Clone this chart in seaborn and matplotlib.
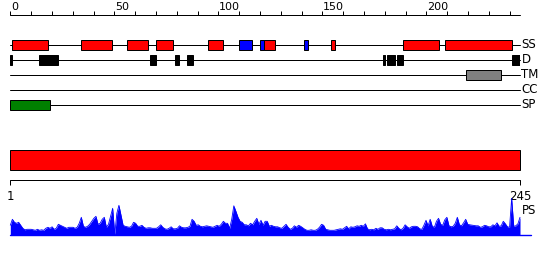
import numpy as np
import pandas as pd
import matplotlib
matplotlib.use("Agg")
import matplotlib.pyplot as plt
import seaborn as sns

# ---------------- data ----------------
protein_length = 245
track_names = ["SS", "D", "TM", "CC", "SP"]

ss_helix = [(1, 18), (34, 49), (56, 66), (70, 78), (95, 102), (122, 127),
            (154, 156), (189, 206), (209, 241)]
ss_strand = [(110, 116), (120, 122), (141, 143)]
disorder = [(0, 1), (14, 23), (67, 70), (79, 81), (85, 88), (179, 180),
            (181, 185), (186, 189), (241, 245)]
transmembrane = [(219, 236)]
coiled_coil = []
signal_peptide = [(0, 19)]

ruler_ticks = list(range(0, 241, 10))
ruler_labels = [0, 50, 100, 150, 200]

domain_segments = [(1, 245)]
domain_labels = ["1", "245"]

ps_values = [
    10, 16, 13, 12, 13, 10, 7, 5.5, 6, 6,
    6, 5.5, 5, 6, 5, 5.5, 5, 7, 8, 7,
    8.5, 6, 7, 11, 10, 9, 8, 7, 8, 8,
    8, 7, 8, 12, 18, 9, 8, 9, 11, 14,
    17, 19, 11, 12, 16, 18, 8, 11, 19, 27,
    1, 22, 30, 20, 10, 9, 8.5, 8, 9, 13,
    12, 9, 9, 10, 8, 7, 7.5, 7.5, 7, 7,
    7, 8.5, 10.5, 8, 6.5, 6, 7, 8.5, 6.5, 6.5,
    7, 9.5, 8, 7.5, 7.5, 8, 9, 16, 14, 10,
    10.5, 9, 8.5, 9, 9.5, 9, 8.5, 8, 9, 10,
    9, 11, 14, 12, 12, 7, 16, 29.5, 24, 18,
    14, 13, 10.5, 10.5, 9.5, 12, 10.5, 14, 17, 11,
    15, 10, 14, 14, 9, 10, 9, 8.5, 8.5, 7.5,
    7, 9, 11, 8, 6, 7, 9.5, 8, 10, 9,
    7.5, 6, 5, 5, 5.5, 5, 5, 6, 8, 11,
    10, 6, 5.5, 5, 5, 5, 5.5, 6, 6.5, 6,
    7.5, 9, 6.5, 8.5, 8, 8.5, 9.5, 9, 10, 9,
    11.5, 6.5, 5.5, 6, 5.5, 7, 6, 7.5, 7.5, 6,
    5.5, 6, 5.5, 6, 6.5, 9.5, 7, 5.5, 7, 10.5,
    8.5, 7, 8.5, 9, 9, 8.5, 6.5, 6, 10, 15,
    9.5, 16, 9, 8, 14, 17, 11, 10, 15.5, 18,
    9.5, 8.5, 9, 12, 18, 10.5, 9.5, 12.5, 16, 11,
    10.5, 10.2, 9.8, 9.5, 9.5, 8, 8.5, 10, 9.5, 8.5,
    8.5, 10.5, 9.5, 12.5, 9, 9.5, 14, 11.5, 8.5, 8,
    37, 9, 9.5, 11.5, 18,
]
ps_positions = list(range(1, protein_length + 1))

# ---------------- style ----------------
sns.set_theme(style="white")
plt.rcParams["font.family"] = ["DejaVu Sans"]
plt.rcParams["text.color"] = "black"

W, H = 550, 260
fig = plt.figure(figsize=(W / 100, H / 100), dpi=100)
fig.patch.set_facecolor("white")


def frac(l, t, r, b):
    return [l / W, 1 - b / H, (r - l) / W, (b - t) / H]


LW = 0.72
X0, X1 = 10.3, 520.0

# ---------- tracks ----------
ax1 = fig.add_axes(frac(X0, 0, X1, 115))
ax1.set_xlim(0, protein_length)
ax1.set_ylim(4.667, -3)
ax1.axis("off")

ax1.plot([0, protein_length], [-2, -2], color="black", lw=LW, clip_on=False)
ax1.vlines(ruler_ticks, -2, -2 - 4 / 15, color="black", lw=LW)
for v in ruler_labels:
    ax1.text(v + 0.4, -2.32, str(v), ha="left", va="baseline", fontsize=8,
             color="black")

track_items = {
    "SS": [(ss_helix, "#ff0000"), (ss_strand, "#0000ff")],
    "D": [(disorder, "#000000")],
    "TM": [(transmembrane, "#808080")],
    "CC": [(coiled_coil, "#ffff00")],
    "SP": [(signal_peptide, "#008000")],
}
for i, name in enumerate(track_names):
    ax1.plot([0, protein_length], [i, i], color="black", lw=LW, zorder=1, clip_on=False)
    ax1.text(protein_length + 0.7, i, name, ha="left", va="center", fontsize=8.5,
             color="black")
    for segs, col in track_items[name]:
        if not segs:
            continue
        starts = [s for s, e in segs]
        widths = [e - s for s, e in segs]
        ax1.barh([i] * len(segs), widths, left=starts, height=0.667,
                 color=col, edgecolor="black", linewidth=LW, zorder=2)

# ---------- domain bar + ruler ----------
ax2 = fig.add_axes(frac(X0, 140, X1, 205))
ax2.set_xlim(1, protein_length)
ax2.set_ylim(2.235, -1.015)
ax2.axis("off")
for s, e in domain_segments:
    ax2.barh(0, e - s, left=s, height=1.0, color="#ff0000",
             edgecolor="black", linewidth=LW, clip_on=False)
ax2.plot([1, protein_length], [1, 1], color="black", lw=LW, clip_on=False)
ax2.vlines([1, protein_length], 1, 1.25, color="black", lw=LW, clip_on=False)
ax2.text(1, 1.985, domain_labels[0], ha="center", va="baseline", fontsize=8.5,
         color="black")
ax2.text(protein_length, 1.985, domain_labels[1], ha="center", va="baseline",
         fontsize=8.5, color="black")

# ---------- PS profile ----------
ax3 = fig.add_axes(frac(X0, 190.3, X1, 235.3))
ax3.set_xlim(1, protein_length)
ax3.set_ylim(0, 45)
ax3.axis("off")
df = pd.DataFrame({"pos": ps_positions, "ps": ps_values})
sns.lineplot(data=df, x="pos", y="ps", ax=ax3, color="#0000ff", lw=0.6, clip_on=False)
ax3.fill_between(df["pos"], 0, df["ps"], color="#0000ff", lw=0, clip_on=False)
ax3.plot([1, protein_length + 5.2], [0, 0], color="#0000ff", lw=1.0, clip_on=False)
ax3.text(protein_length + 0.7, 24.3, "PS", ha="left", va="center", fontsize=8.5,
         color="black")

fig.savefig("out.png", dpi=100, facecolor="white")
